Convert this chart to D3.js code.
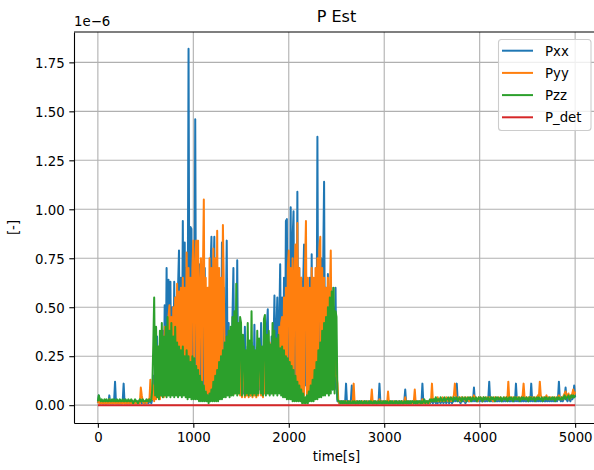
<!DOCTYPE html>
<head>
  <meta charset="utf-8">
</head>
<style>
body {
  margin: 0;
  background: #ffffff;
}
.series {
  fill: none;
  stroke-width: 2;
  stroke-linejoin: round;
}
.grid line {
  stroke: #b0b0b0;
  stroke-width: 1.1;
}
</style>
<body>
<script src="https://cdn.jsdelivr.net/npm/d3@7"></script>
<script>
// sampled every 10 s from 0 to 5000 s, values in 1e-8 (100 = 1e-6)
var pxx = [
  1,5,2,1,2,1,1,2,1,1,2,1,5,1,2,1,1,2,12,1,2,1,1,2,1,
  1,2,11,1,2,1,1,2,1,1,2,1,1,2,1,1,2,1,1,2,3,1,2,1,1,
  2,1,2,1,2,2,1,3,15,4,25,6,35,5,28,8,30,5,38,6,51,8,70,10,64,
  9,63,7,50,10,63,12,55,8,60,79,10,65,15,94,12,83,14,70,20,182,15,91,90,18,
  60,12,146,10,70,8,72,8,65,10,60,6,70,8,55,5,60,6,70,86,8,60,86,10,72,
  10,65,12,60,8,83,10,60,8,40,84,10,42,8,38,10,45,70,8,42,10,74,8,39,10,
  30,5,28,6,40,5,8,30,6,28,5,32,6,8,41,6,8,28,6,30,8,42,6,8,30,
  38,8,40,49,8,30,6,35,8,30,56,10,38,55,10,40,72,12,55,10,65,12,94,95,15,
  70,12,101,15,85,99,12,75,10,109,12,70,10,65,8,60,82,10,65,8,60,6,65,8,77,
  10,60,8,65,12,137,10,70,12,75,10,70,114,12,60,10,67,8,55,10,60,8,50,8,60,
  10,2,2,1,2,1,2,1,2,1,11,1,2,1,1,2,10,1,2,1,1,2,1,1,2,
  1,2,1,1,2,1,1,2,1,1,2,1,2,1,1,2,1,1,2,1,11,1,2,1,1,
  2,1,1,2,1,1,2,1,1,2,1,1,2,1,1,2,1,1,2,1,1,2,8,1,2,
  1,1,2,1,1,2,1,2,1,1,2,1,1,2,1,11,1,2,1,1,2,1,2,1,2,
  2,1,2,3,1,2,1,3,2,1,2,3,1,2,2,1,3,2,1,2,3,1,2,2,3,
  2,11,2,3,2,1,3,2,2,3,1,2,3,2,2,3,2,3,2,9,2,3,2,2,3,
  2,3,2,2,3,2,2,3,2,3,12,2,3,2,2,3,2,3,2,2,3,2,3,2,2,
  2,3,2,3,2,3,2,2,3,2,3,2,2,11,2,3,2,3,2,2,3,2,3,2,2,
  3,2,3,2,11,2,3,2,3,2,2,3,2,3,2,3,2,3,2,2,3,2,3,2,3,
  2,3,2,3,2,3,2,3,12,3,2,3,2,3,4,9,3,2,4,3,2,4,3,4,10,
  4];

var pyy = [
  1,2,1,1,2,1,1,2,1,1,2,1,3,1,1,2,1,1,2,1,1,2,1,1,2,
  1,1,2,1,1,2,1,1,2,1,1,2,1,1,2,1,1,2,1,1,9,5,2,1,2,
  2,1,2,3,2,13,4,3,10,2,20,3,25,4,30,3,28,5,35,4,40,5,38,6,45,
  51,6,45,8,50,8,55,10,62,12,58,10,60,12,65,15,60,12,78,15,70,12,65,15,70,
  84,15,70,84,12,84,10,60,75,8,65,105,8,65,6,60,5,75,6,70,8,80,6,75,8,
  89,10,70,12,65,15,92,60,15,30,10,28,8,30,6,25,8,30,6,25,8,28,6,25,5,
  25,4,24,18,4,16,5,26,4,24,5,28,4,18,5,16,4,22,5,24,18,5,18,4,26,
  6,30,8,28,6,32,8,30,6,35,8,30,10,30,8,40,10,42,45,12,55,15,60,12,70,
  79,15,70,12,75,10,65,82,12,93,10,70,8,65,6,60,5,70,94,5,65,4,60,6,70,
  8,65,10,70,12,75,10,80,86,12,70,15,65,12,60,15,65,12,55,79,15,50,12,45,15,
  15,11,2,1,1,2,1,1,2,1,2,1,1,2,1,1,2,1,11,1,1,2,1,1,2,
  1,1,2,1,1,2,1,1,2,1,1,2,8,1,1,2,1,1,2,1,3,1,1,2,1,
  1,2,1,1,7,1,1,2,1,1,2,1,1,2,1,1,2,1,1,2,1,1,4,1,1,
  2,1,1,2,1,1,2,8,1,2,1,1,2,1,1,3,1,2,1,2,1,2,1,2,2,
  11,2,3,2,3,2,4,2,3,2,3,4,2,3,2,4,3,2,3,4,2,3,4,5,11,
  5,4,3,4,3,2,4,3,3,4,2,3,4,3,2,4,3,4,3,5,3,4,3,2,4,
  3,4,3,2,4,3,3,4,3,4,4,3,4,3,2,4,3,4,3,3,4,3,4,3,3,
  3,4,3,4,3,12,3,4,3,4,3,4,3,4,3,4,3,4,3,4,5,11,4,3,4,
  3,4,3,4,4,3,4,3,4,3,4,5,4,12,5,4,3,4,3,4,5,3,4,3,4,
  3,4,3,4,3,4,3,4,5,4,3,4,3,5,6,7,4,5,6,3,5,4,6,8,5,
  7];

var pzz = [
  2,5,3,2,3,2,2,3,2,3,2,2,3,2,2,3,2,3,2,2,3,2,2,3,2,
  2,3,2,2,3,2,2,3,2,2,3,2,1,2,3,2,2,1,2,3,2,2,3,2,2,
  2,3,2,2,3,2,3,8,30,55,5,40,4,30,3,38,5,42,4,35,5,40,4,45,5,
  38,4,42,5,35,4,40,5,32,4,30,5,28,4,30,5,25,4,28,3,25,4,22,3,25,
  3,24,3,20,3,18,2,15,2,12,2,10,2,7,2,5,1,6,2,8,2,12,2,15,2,
  18,2,22,3,25,3,28,4,32,4,35,5,38,4,40,5,45,5,48,6,62,5,42,6,45,
  42,5,36,30,5,28,6,42,5,33,6,48,5,30,6,28,5,38,6,34,30,6,30,5,44,
  46,5,36,6,38,5,31,6,42,5,38,6,34,5,36,6,29,5,30,4,28,4,25,3,24,
  3,22,3,20,2,18,2,15,2,12,2,10,2,8,1,6,1,4,1,5,1,7,2,10,2,
  13,2,18,3,22,3,28,4,32,4,38,5,42,5,45,6,50,5,55,6,58,8,60,6,48,
  45,3,2,2,1,2,1,2,1,2,1,1,2,1,2,1,1,2,1,2,1,1,2,1,2,
  1,2,1,1,2,1,2,1,1,2,1,2,1,1,2,1,2,1,1,2,1,2,1,1,2,
  1,2,1,2,1,1,2,1,2,1,1,2,1,2,1,1,2,1,2,1,1,2,1,2,1,
  2,1,2,1,2,2,1,2,1,2,1,2,2,1,2,1,2,3,1,2,2,1,2,3,2,
  3,2,3,2,4,2,3,3,2,4,3,2,3,4,2,3,3,4,2,3,4,3,2,4,3,
  3,4,2,3,4,3,2,4,3,3,4,2,3,4,3,4,2,3,4,3,3,4,2,3,4,
  3,4,3,2,4,3,4,3,3,4,2,3,4,3,4,3,2,4,3,4,3,3,4,2,3,
  4,3,3,4,2,3,4,3,4,3,2,4,3,4,3,3,4,2,3,4,3,4,3,3,4,
  3,2,4,3,4,3,3,4,2,3,4,3,4,3,3,4,2,3,4,3,4,3,3,4,3,
  3,4,3,4,2,3,4,3,4,3,3,4,3,4,5,3,4,4,5,3,4,5,4,5,4,
  5];

var detTime = [0, 1000, 2000, 3000, 4000, 5000];
var pDet = [0, 0, 0, 0, 0, 0];

var xTicks = [0, 1000, 2000, 3000, 4000, 5000];
var yTicks = [0, 25, 50, 75, 100, 125, 150, 175];
var names = ["Pxx", "Pyy", "Pzz", "P_det"];
var colors = ["#1f77b4", "#ff7f0e", "#2ca02c", "#d62728"];

var width = 594, height = 470;
var plotLeft = 74, plotRight = 599, plotTop = 32, plotBottom = 423;
var fontSize = 13.3;

var time = d3.range(0, 5001, 10);

var x = d3.scaleLinear().domain([-250, 5250]).range([plotLeft, plotRight]);
var y = d3.scaleLinear().domain([-9.1, 190.5]).range([plotBottom, plotTop]);

var svg = d3.select("body").append("svg")
  .attr("width", width)
  .attr("height", height)
  .attr("font-family", "DejaVu Sans, sans-serif");

svg.append("defs").append("clipPath")
  .attr("id", "plotclip")
  .append("rect")
  .attr("x", plotLeft)
  .attr("y", plotTop)
  .attr("width", plotRight - plotLeft)
  .attr("height", plotBottom - plotTop);

// grid
var grid = svg.append("g").attr("class", "grid");
grid.selectAll(".vx")
  .data(xTicks)
  .enter().append("line")
  .attr("x1", function(d) { return x(d); })
  .attr("x2", function(d) { return x(d); })
  .attr("y1", plotTop)
  .attr("y2", plotBottom);
grid.selectAll(".hy")
  .data(yTicks)
  .enter().append("line")
  .attr("x1", plotLeft)
  .attr("x2", plotRight)
  .attr("y1", function(d) { return y(d); })
  .attr("y2", function(d) { return y(d); });

// series
var line = d3.line()
  .x(function(d, i) { return x(time[i]); })
  .y(function(d) { return y(d); });

var detLine = d3.line()
  .x(function(d, i) { return x(detTime[i]); })
  .y(function(d) { return y(d); });

var lines = svg.append("g").attr("clip-path", "url(#plotclip)");
[pxx, pyy, pzz].forEach(function(s, k) {
  lines.append("path")
    .datum(s)
    .attr("class", "series")
    .attr("stroke", colors[k])
    .attr("d", line);
});
lines.append("path")
  .datum(pDet)
  .attr("class", "series")
  .attr("stroke", colors[3])
  .attr("d", detLine);

// axes
var xAxis = svg.append("g")
  .attr("transform", "translate(0," + plotBottom + ")")
  .call(d3.axisBottom(x).tickValues(xTicks).tickSize(4.7).tickSizeOuter(0).tickPadding(4.5)
    .tickFormat(d3.format("d")));

var yAxis = svg.append("g")
  .attr("transform", "translate(" + plotLeft + ",0)")
  .call(d3.axisLeft(y).tickValues(yTicks).tickSize(4.7).tickSizeOuter(0).tickPadding(4.7)
    .tickFormat(function(d) { return (d / 100).toFixed(2); }));

[xAxis, yAxis].forEach(function(a) {
  a.attr("font-family", "DejaVu Sans, sans-serif").attr("font-size", fontSize);
  a.selectAll("path, line").attr("stroke", "#000").attr("stroke-width", 1.1);
  a.selectAll("text").attr("fill", "#000");
});
yAxis.selectAll("text").attr("dy", "0.36em");

svg.append("line")
  .attr("x1", plotLeft).attr("x2", plotRight)
  .attr("y1", plotTop).attr("y2", plotTop)
  .attr("stroke", "#000").attr("stroke-width", 1.1);

// labels
var midX = (plotLeft + plotRight) / 2;
svg.append("text")
  .attr("x", midX)
  .attr("y", 22)
  .attr("text-anchor", "middle")
  .attr("font-size", 16)
  .text("P Est");

svg.append("text")
  .attr("x", midX)
  .attr("y", 461)
  .attr("text-anchor", "middle")
  .attr("font-size", fontSize)
  .text("time[s]");

svg.append("text")
  .attr("transform", "translate(18," + (plotTop + plotBottom) / 2 + ") rotate(-90)")
  .attr("text-anchor", "middle")
  .attr("font-size", fontSize)
  .text("[-]");

svg.append("text")
  .attr("x", plotLeft)
  .attr("y", 26)
  .attr("font-size", fontSize)
  .text("1e\u22126");

// legend
var legend = svg.append("g");
legend.append("rect")
  .attr("x", 498.5)
  .attr("y", 39.5)
  .attr("width", 92.5)
  .attr("height", 91)
  .attr("rx", 3)
  .attr("fill", "#ffffff")
  .attr("fill-opacity", 0.8)
  .attr("stroke", "#cccccc")
  .attr("stroke-width", 1.1);

var entry = legend.selectAll(".entry")
  .data(names)
  .enter().append("g")
  .attr("transform", function(d, i) { return "translate(0," + (50.7 + i * 22.2) + ")"; });
entry.append("line")
  .attr("x1", 502).attr("x2", 533)
  .attr("stroke", function(d, i) { return colors[i]; })
  .attr("stroke-width", 2);
entry.append("text")
  .attr("x", 545)
  .attr("y", 4.8)
  .attr("font-size", fontSize)
  .text(function(d) { return d; });
</script>
</body>
